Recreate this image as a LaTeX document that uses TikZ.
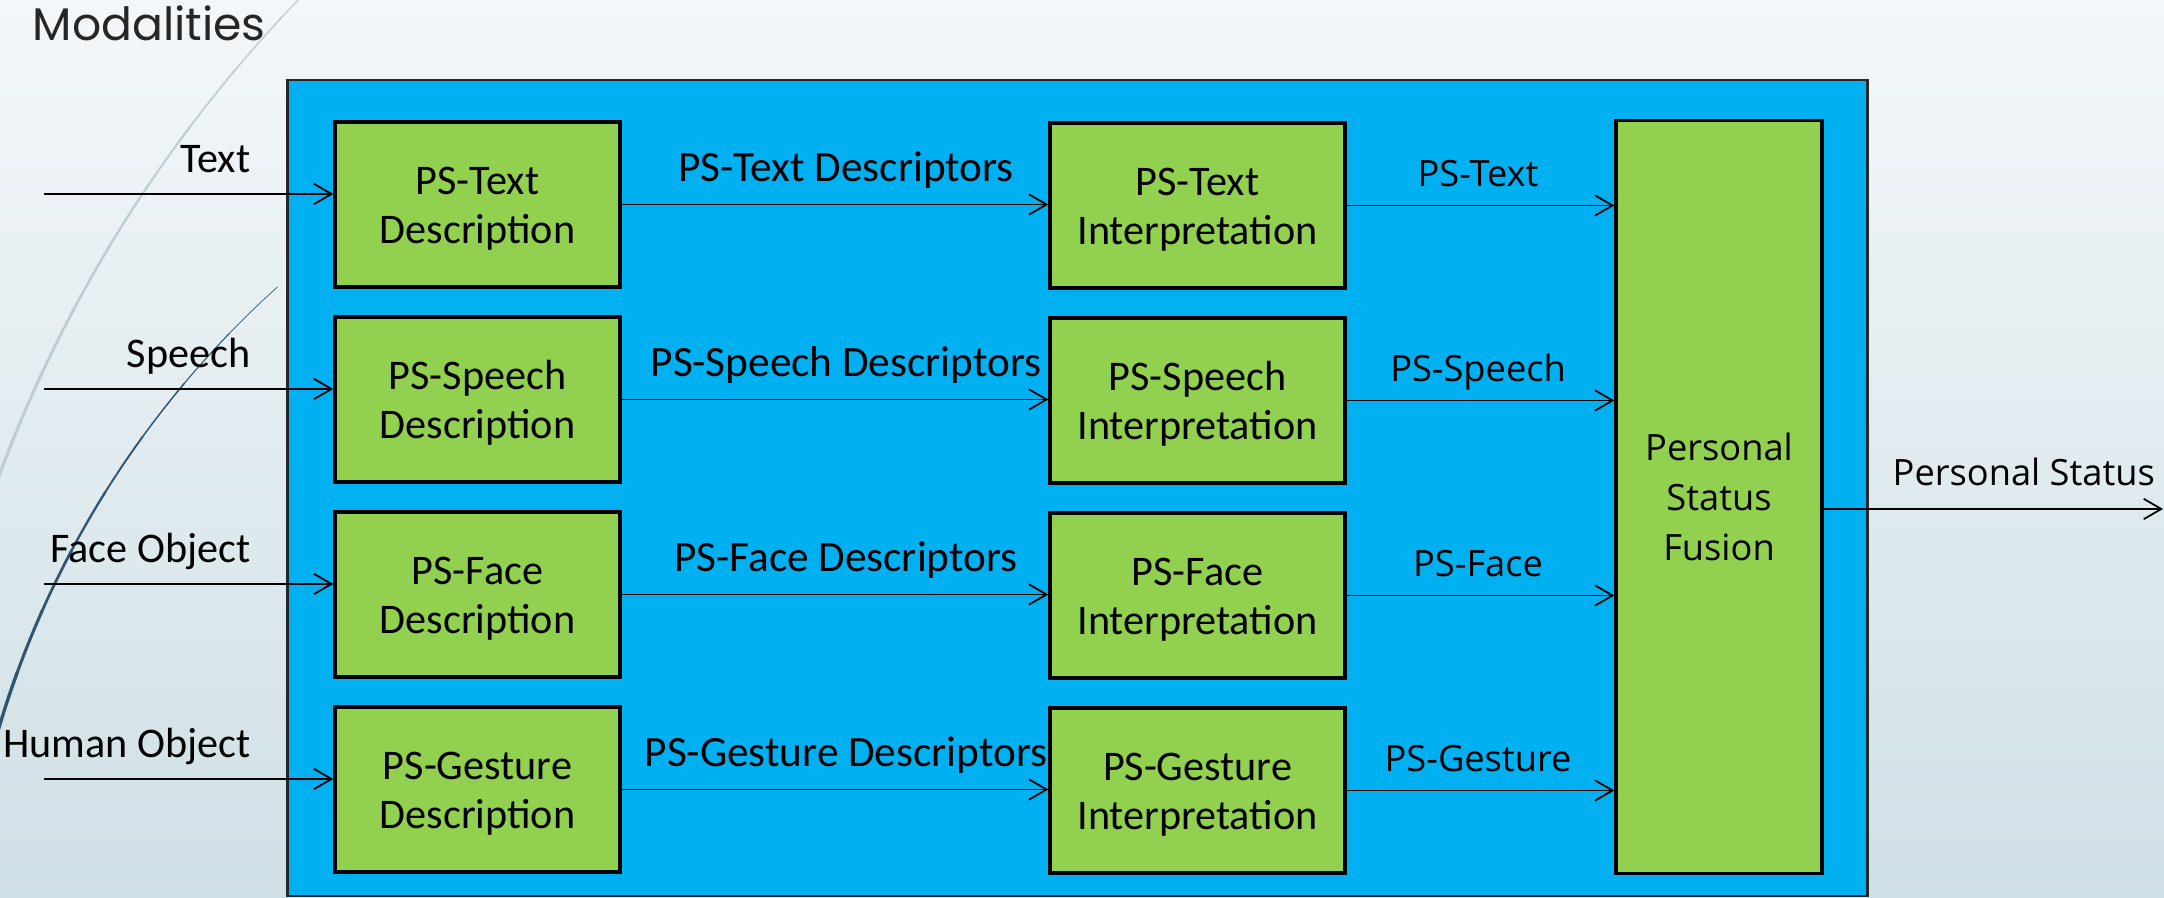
\documentclass[tikz,border=0pt]{standalone}
\usepackage{fontspec}
\setmainfont{Carlito}
\newfontfamily\osans{Open Sans}
\newfontfamily\gothic{Poppins}
\usetikzlibrary{arrows.meta}
\definecolor{bgtop}{RGB}{244,247,249}
\definecolor{bgbot}{RGB}{207,224,230}
\definecolor{pblue}{RGB}{0,176,240}
\definecolor{pgreen}{RGB}{146,208,80}
\definecolor{arclight}{RGB}{190,204,212}
\definecolor{arcdark}{RGB}{46,86,112}
\newcommand{\twoline}[2]{\raisebox{-0.045cm}[\height][\depth]{\begin{tabular}{@{}c@{}}#1\\#2\end{tabular}}}
\begin{document}
\begin{tikzpicture}[x=0.01cm,y=-0.01cm,
  arr/.style={draw=black, line width=0.5pt, -{Straight Barb[length=5pt,width=5.8pt]}},
  gbox/.style={draw=black, line width=0.95pt, fill=pgreen, align=center, inner sep=0pt, font=\fontsize{12}{14.2}\selectfont},
  descbox/.style={gbox, minimum width=2.85cm, minimum height=1.65cm},
  interpbox/.style={gbox, minimum width=2.95cm, minimum height=1.65cm},
  lab/.style={font=\fontsize{12}{14.2}\selectfont, inner sep=0pt},
  mlab/.style={font=\fontsize{12.3}{14.2}\selectfont, inner sep=0pt},
  rlab/.style={font=\osans\fontsize{10.3}{12}\selectfont, inner sep=0pt},
]
\useasboundingbox (0,0) rectangle (2164,898);
\shade[top color=bgtop, bottom color=bgbot] (0,0) rectangle (2164,898);

% decorative arcs (tapered circle arcs)
\begin{scope}
\clip (0,0) rectangle (2164,898);
\foreach \a/\w in {134/0.35,137/0.42,140/0.5,143/0.58,146/0.66,149/0.74,152/0.8,155/0.85,158/0.9}{
  \draw[arclight, line width=\w pt, line cap=round, domain=\a:\a+3.2, samples=12, variable=\t]
    plot ({1289.5+1376.6*cos(\t)}, {955-1376.6*sin(\t)});
}
\foreach \a/\w in {132/0.2,136/0.3,140/0.42,144/0.54,148/0.66,152/0.76,156/0.86,160/0.95,164/1.0}{
  \draw[arcdark, line width=\w pt, line cap=round, domain=\a:\a+4.2, samples=12, variable=\t]
    plot ({921+962*cos(\t)}, {1002-962*sin(\t)});
}
\end{scope}

\node[font=\gothic\fontsize{13}{15}\selectfont, anchor=base west, inner sep=0pt, text=black!85] (mod) at (32,41) {Modalities};

% panel
\node[draw=black!85, line width=0.6pt, fill=pblue, minimum width=15.79cm, minimum height=8.16cm, inner sep=0pt] (panel) at (1077.5,488) {};

% fusion
\node[gbox, minimum width=2.06cm, minimum height=7.52cm, font=\osans\fontsize{10.3}{14.2}\selectfont] (fus) at (1719,497) {Personal\\Status\\Fusion};

\foreach \k/\key/\inp in {0/Text/Text, 1/Speech/Speech, 2/Face/Face Object, 3/Gesture/Human Object} {
  \pgfmathsetmacro\yc{204.5+195*\k}
  \pgfmathsetmacro\yi{194+195*\k}
  \pgfmathsetmacro\yl{173+195*\k}
  \pgfmathsetmacro\ym{182+195*\k}
  \pgfmathsetmacro\yr{187+195*\k}
  \node[descbox] (d\k) at (477.5,\yc) {\twoline{PS-\key}{Description}};
  \node[interpbox] (i\k) at (1197.5,\yc+1) {\twoline{PS-\key}{Interpretation}};
  \coordinate (in\k) at (44,\yi);
  \draw[arr] (in\k) -- (d\k.west |- in\k);
  \node[lab, anchor=base east] (li\k) at (251,\yl) {\inp};
  \draw[arr] (d\k.east) -- (d\k.east -| i\k.west);
  \node[mlab, anchor=base] (lm\k) at (846,\ym) {PS-\key{} Descriptors};
  \draw[arr] (i\k.east) -- (i\k.east -| fus.west);
  \node[rlab, anchor=base] (lr\k) at (1478,\yr) {PS-\key};
}

\coordinate (out) at (2163,509);
\draw[arr] (fus.east |- out) -- (out);
\node[rlab, anchor=base west] (lout) at (1892,486) {Personal Status};
\end{tikzpicture}
\end{document}
